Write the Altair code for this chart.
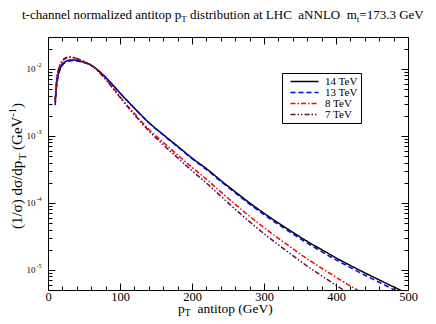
import altair as alt
import pandas as pd

FONT = "Liberation Serif"

# transverse momentum grid (GeV)
pt = [10, 12, 14, 16, 20, 25, 30, 35, 40, 50, 60, 70, 80, 90, 100, 120, 140, 160, 180,
      200, 220, 240, 260, 280, 300, 320, 340, 360, 380, 400, 420, 440, 460, 480, 500]

# normalized distributions (1/sigma) dsigma/dpT  (GeV^-1)
tev14 = [3.16e-3, 6.03e-3, 8.13e-3, 9.66e-3, 1.175e-2, 1.30e-2, 1.355e-2, 1.365e-2, 1.34e-2,
         1.259e-2, 1.135e-2, 9.44e-3, 7.50e-3, 5.75e-3, 4.37e-3, 2.60e-3, 1.585e-3, 1.047e-3,
         7.00e-4, 4.68e-4, 3.24e-4, 2.16e-4, 1.46e-4, 1.00e-4, 7.00e-5, 5.01e-5, 3.63e-5,
         2.66e-5, 2.00e-5, 1.51e-5, 1.16e-5, 9.02e-6, 7.08e-6, 5.56e-6, 4.42e-6]
tev13 = [2.88e-3, 5.37e-3, 7.59e-3, 9.23e-3, 1.135e-2, 1.268e-2, 1.318e-2, 1.334e-2, 1.318e-2,
         1.247e-2, 1.135e-2, 9.44e-3, 7.50e-3, 5.75e-3, 4.37e-3, 2.59e-3, 1.57e-3, 1.033e-3,
         6.87e-4, 4.57e-4, 3.15e-4, 2.09e-4, 1.41e-4, 9.6e-5, 6.68e-5, 4.76e-5, 3.44e-5,
         2.51e-5, 1.87e-5, 1.41e-5, 1.08e-5, 8.34e-6, 6.52e-6, 5.09e-6, 4.03e-6]
tev8 = [3.31e-3, 6.92e-3, 9.12e-3, 1.084e-2, 1.303e-2, 1.445e-2, 1.493e-2, 1.479e-2, 1.429e-2,
        1.288e-2, 1.135e-2, 9.23e-3, 7.08e-3, 5.25e-3, 3.85e-3, 2.16e-3, 1.259e-3, 8.04e-4,
        5.19e-4, 3.39e-4, 2.26e-4, 1.46e-4, 9.55e-5, 6.31e-5, 4.27e-5, 2.95e-5, 2.07e-5,
        1.46e-5, 1.06e-5, 7.76e-6, 5.75e-6, 4.32e-6]
tev7 = [3.39e-3, 7.08e-3, 9.33e-3, 1.109e-2, 1.334e-2, 1.469e-2, 1.51e-2, 1.486e-2, 1.429e-2,
        1.288e-2, 1.135e-2, 9.16e-3, 7.00e-3, 5.15e-3, 3.76e-3, 2.07e-3, 1.189e-3, 7.40e-4,
        4.71e-4, 3.02e-4, 1.98e-4, 1.26e-4, 8.05e-5, 5.22e-5, 3.47e-5, 2.37e-5, 1.63e-5,
        1.14e-5, 8.15e-6, 5.89e-6, 4.31e-6]

series_labels = ["14 TeV", "13 TeV", "\u20078 TeV", "\u20077 TeV"]
series_colors = ["#000000", "#0000ff", "#ff0000", "#670748"]
series_dashes = [[1, 0], [5, 3], [5, 2, 1.5, 2], [5, 2, 1.5, 2, 1.5, 2]]

x_major = [0, 100, 200, 300, 400, 500]
x_minor = [v for v in range(20, 500, 20) if v % 100 != 0]
y_major = [1e-5, 1e-4, 1e-3, 1e-2]
y_minor = [k * 10.0 ** e for e in range(-6, -1) for k in range(2, 10) if 5e-6 <= k * 10.0 ** e <= 3e-2]

title_parts = ["t-channel normalized antitop p", "T",
               "distribution at LHC\u00a0\u00a0aNNLO\u00a0\u00a0m", "t", "=173.3 GeV"]
xtitle_parts = ["p", "T", "antitop (GeV)"]
ytitle_parts = ["(1/\u03c3) d\u03c3/dp", "T", "(GeV", "-1", ")"]

rows = []
for lab, vals in zip(series_labels, [tev14, tev13, tev8, tev7]):
    for p, v in zip(pt, vals):
        rows.append({"series": lab, "pt": p, "val": v})
df = pd.DataFrame(rows)

xs = alt.Scale(domain=[0, 500], nice=False, zero=False)
ys = alt.Scale(type="log", domain=[5e-6, 3e-2], nice=False)

common = dict(domain=False, grid=False, title=None, tickColor="black", tickWidth=1,
              labelColor="black", labelFont=FONT)

ax_xb = alt.Axis(orient="bottom", values=x_major, tickSize=7, offset=-7, labelFontSize=12.5,
                 labelPadding=0, labelFlush=False, labelOverlap=False, format="d", **common)
ax_yl = alt.Axis(orient="left", values=y_major, tickSize=7, offset=-7, labelExpr="'10'",
                 labelFontSize=9, labelPadding=13, labelBaseline="middle", **common)
ax_yexp = alt.Axis(orient="left", values=y_major, ticks=False, tickSize=0,
                   labelExpr="'-' + round(-log(datum.value)/LN10)", labelFontSize=6,
                   labelPadding=7, labelOffset=-4, labelBaseline="middle", **common)
ax_xb_min = alt.Axis(orient="bottom", values=x_minor, tickSize=4, offset=-4, labels=False, **common)
ax_yl_min = alt.Axis(orient="left", values=y_minor, tickSize=4, offset=-4, labels=False, **common)
ax_xt = alt.Axis(orient="top", values=x_major, tickSize=7, offset=-7, labels=False, **common)
ax_yr = alt.Axis(orient="right", values=y_major, tickSize=7, offset=-7, labels=False, **common)
ax_xt_min = alt.Axis(orient="top", values=x_minor, tickSize=4, offset=-4, labels=False, **common)
ax_yr_min = alt.Axis(orient="right", values=y_minor, tickSize=4, offset=-4, labels=False, **common)

leg = alt.Legend(orient="none", legendX=234, legendY=36, title=None,
                 symbolType="M0,0H14", symbolSize=16, symbolStrokeWidth=1.5,
                 labelFont=FONT, labelFontSize=11, labelColor="black", labelOffset=29,
                 padding=3, rowPadding=-1, strokeColor="black", fillColor="white",
                 labelLimit=200)

lines = alt.Chart(df).mark_line(clip=True, strokeWidth=1.5, interpolate="monotone").encode(
    x=alt.X("pt:Q", scale=xs, axis=ax_xb),
    y=alt.Y("val:Q", scale=ys, axis=ax_yl),
    color=alt.Color("series:N", scale=alt.Scale(domain=series_labels, range=series_colors), legend=leg),
    strokeDash=alt.StrokeDash("series:N", scale=alt.Scale(domain=series_labels, range=series_dashes), legend=leg),
)


def axis_layer(xaxis, yaxis):
    return alt.Chart(df).mark_point(opacity=0, size=1, clip=True).encode(
        x=alt.X("pt:Q", scale=xs, axis=xaxis),
        y=alt.Y("val:Q", scale=ys, axis=yaxis),
    )


def txt(s, x, y, size, angle=0, dy=0):
    return alt.Chart(pd.DataFrame({"t": [s]})).mark_text(
        align="left", baseline="alphabetic", font=FONT, fontSize=size, angle=angle, dy=dy,
        color="black").encode(text="t:N", x=alt.value(x), y=alt.value(y))


texts = [
    txt(title_parts[0], -26, -18, 13),
    txt(title_parts[1], 133.2, -18, 9, dy=3),
    txt(title_parts[2], 142.0, -18, 13),
    txt(title_parts[3], 308.8, -18, 9, dy=3),
    txt(title_parts[4], 311.3, -18, 13),
    txt(xtitle_parts[0], 130, 275.5, 13.5),
    txt(xtitle_parts[1], 136.8, 275.5, 9.5, dy=3),
    txt(xtitle_parts[2], 149.5, 275.5, 13.5),
    txt(ytitle_parts[0], -26.5, 192.1, 15, angle=270),
    txt(ytitle_parts[1], -26.5, 123.1, 10.5, angle=270, dy=4),
    txt(ytitle_parts[2], -26.5, 112.95, 15, angle=270),
    txt(ytitle_parts[3], -26.5, 79.65, 10.5, angle=270, dy=-6),
    txt(ytitle_parts[4], -26.5, 70.95, 15, angle=270),
]

chart = alt.layer(
    lines,
    axis_layer(None, ax_yexp),
    axis_layer(ax_xb_min, ax_yl_min),
    axis_layer(ax_xt, ax_yr),
    axis_layer(ax_xt_min, ax_yr_min),
    *texts,
).resolve_axis(x="independent", y="independent").properties(
    width=360, height=253,
    autosize=alt.AutoSizeParams(type="none"),
    padding={"left": 40, "top": 29, "right": 20, "bottom": 26},
    background="white",
).configure_view(stroke="black", strokeWidth=1)

chart.save("out.html", embed_options={"renderer": "svg", "actions": False})
